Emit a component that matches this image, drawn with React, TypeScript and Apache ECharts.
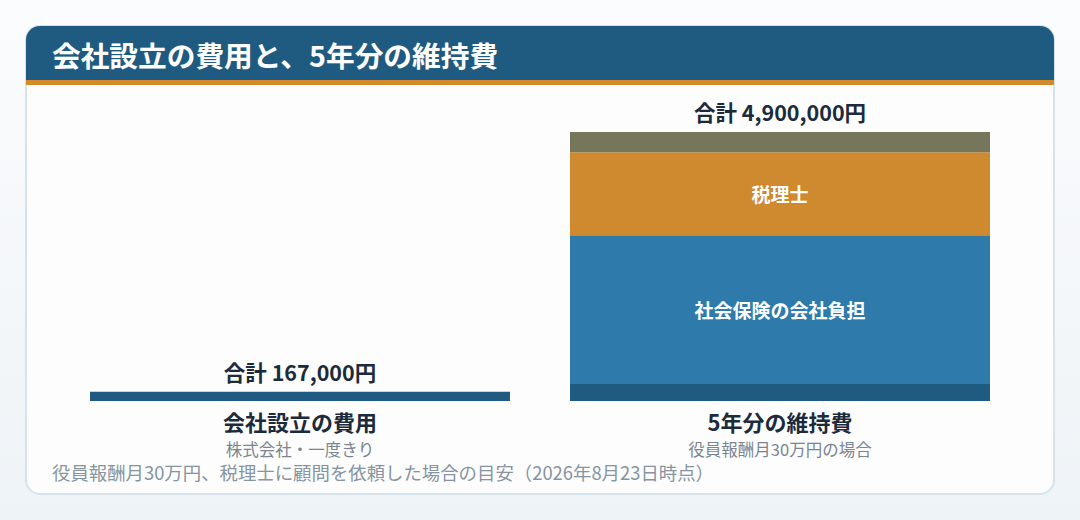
import React, { useEffect, useRef } from "react";
import * as echarts from "echarts";

const categories = ["会社設立の費用", "5年分の維持費"];
const subLabels = ["株式会社・一度きり", "役員報酬月30万円の場合"];
const seriesNames = ["法定費用", "社会保険の会社負担", "税理士", "その他"];
const legalFees = [167000, 310000];
const socialInsurance = [null, 2710000];
const taxAccountant = [null, 1510000];
const others = [null, 370000];
const labeledSeries = [false, true, true, false];
const seriesColors = ["#1f5b80", "#2e7bab", "#cf8a2f", "#76775a"];

const titleText = "会社設立の費用と、5年分の維持費";
const footnote = "役員報酬月30万円、税理士に顧問を依頼した場合の目安（2026年8月23日時点）";

const FONT = '"Noto Sans CJK JP", "Noto Sans", sans-serif';

export default function App() {
  const ref = useRef<HTMLDivElement>(null);
  useEffect(() => {
    document.body.style.margin = "0";
    if (!ref.current) return;
    const chart = echarts.init(ref.current, undefined, { renderer: "svg" });
    const valueLists = [legalFees, socialInsurance, taxAccountant, others];
    const totals = categories.map((_, i) =>
      valueLists.reduce((s, arr) => s + (arr[i] ?? 0), 0)
    );
    const series: any[] = valueLists.map((vals, si) => ({
      name: seriesNames[si],
      type: "bar",
      stack: "total",
      xAxisIndex: 0,
      barWidth: 420,
      data: vals,
      itemStyle: {
        color: seriesColors[si],
        borderWidth: 0,
      },
      label: {
        show: labeledSeries[si],
        position: "inside",
        formatter: "{a}",
        color: "#ffffff",
        fontFamily: FONT,
        fontSize: 19,
        fontWeight: "bold",
      },
      emphasis: { disabled: true },
    }));
    series.push({
      name: "合計",
      type: "bar",
      stack: "total",
      xAxisIndex: 0,
      barWidth: 420,
      data: categories.map(() => 0),
      itemStyle: { color: "transparent", borderWidth: 0 },
      label: {
        show: true,
        position: "top",
        distance: 10,
        formatter: (p: any) => "合計 " + totals[p.dataIndex].toLocaleString("en-US") + "円",
        color: "#1c2b3b",
        fontFamily: FONT,
        fontSize: 21.5,
        fontWeight: "bold",
      },
      emphasis: { disabled: true },
    });
    chart.setOption({
      animation: false,
      grid: { left: 60, right: 60, top: 132, bottom: 119 },
      xAxis: [
        {
          type: "category",
          data: categories,
          axisLine: { show: false },
          axisTick: { show: false },
          axisLabel: {
            margin: 9,
            interval: 0,
            fontFamily: FONT,
            fontSize: 22,
            fontWeight: "bold",
            color: "#1c2b3b",
          },
        },
        {
          type: "category",
          position: "bottom",
          data: subLabels,
          axisLine: { show: false },
          axisTick: { show: false },
          axisLabel: {
            margin: 40,
            interval: 0,
            fontFamily: FONT,
            fontSize: 16.5,
            color: "#7a8591",
          },
        },
      ],
      yAxis: {
        type: "value",
        min: 0,
        max: 4900000,
        show: false,
        splitLine: { show: false },
      },
      graphic: [
        {
          type: "rect",
          z: -10,
          shape: { x: 26, y: 26, width: 1028, height: 468, r: 14 },
          style: { fill: "#fcfdfc", stroke: "#d6e3ec", lineWidth: 2 },
        },
        {
          type: "rect",
          z: -9,
          shape: { x: 26, y: 26, width: 1028, height: 59, r: [14, 14, 0, 0] },
          style: { fill: "#1f5b80" },
        },
        {
          type: "rect",
          z: -8,
          shape: { x: 26, y: 80, width: 1028, height: 5 },
          style: { fill: "#d28a2d" },
        },
        {
          type: "text",
          z: -7,
          x: 52,
          y: 54,
          style: {
            text: titleText,
            fill: "#ffffff",
            fontFamily: FONT,
            fontSize: 28.7,
            fontWeight: "bold",
            verticalAlign: "middle",
          },
        },
        {
          type: "text",
          z: -7,
          x: 52,
          y: 472,
          style: {
            text: footnote,
            fill: "#8794a1",
            fontFamily: FONT,
            fontSize: 18.4,
            verticalAlign: "middle",
          },
        },
      ],
      series,
    });
    return () => chart.dispose();
  }, []);
  return (
    <div
      ref={ref}
      style={{
        position: "absolute",
        left: 0,
        top: 0,
        width: 1080,
        height: 520,
        background: "linear-gradient(#fbfcfd, #eef3f7)",
      }}
    />
  );
}
